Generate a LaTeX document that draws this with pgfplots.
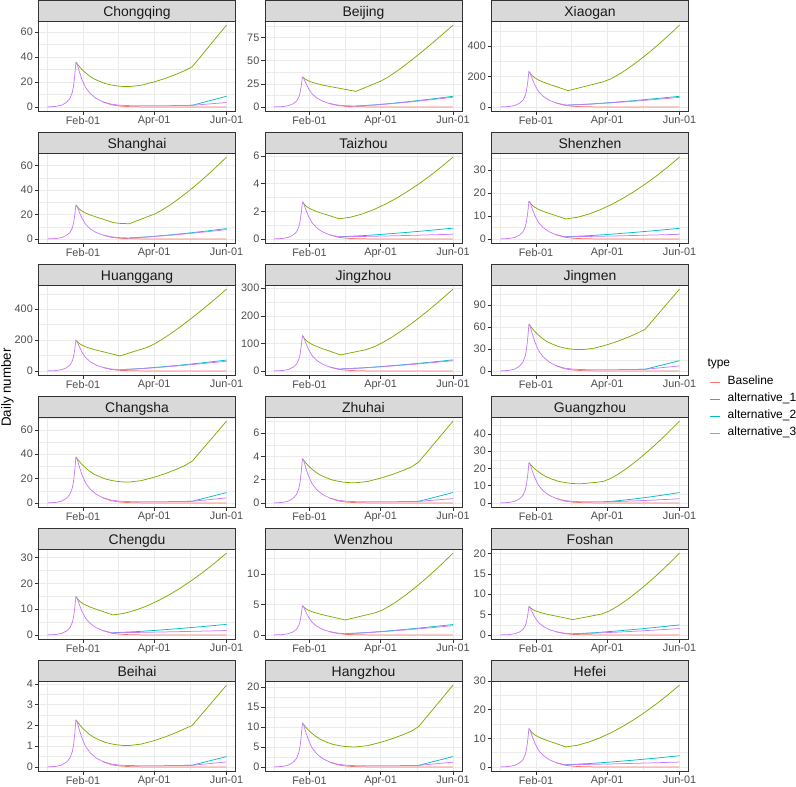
\documentclass[border=0pt]{standalone}
\usepackage{fontspec}
\setmainfont{Liberation Sans}
\usepackage{pgfplots}
\pgfplotsset{compat=1.18}
\definecolor{cR}{HTML}{F8766D}
\definecolor{cG}{HTML}{7CAE00}
\definecolor{cB}{HTML}{00BFC4}
\definecolor{cP}{HTML}{C77CFF}
\definecolor{gridc}{HTML}{EBEBEB}
\definecolor{borderc}{HTML}{333333}
\definecolor{stripc}{HTML}{D9D9D9}
\definecolor{tickc}{HTML}{4D4D4D}
\definecolor{stripfg}{HTML}{1A1A1A}
\pgfplotsset{
  panel/.style={
    scale only axis, width=197bp, height=90bp, anchor=south west,
    xmin=-6.55, xmax=159.55,
    xtick={31,91,152}, xticklabels={Feb-01,Apr-01,Jun-01},
    minor xtick={1,61,121.5},
    grid=both,
    major grid style={draw=gridc, line width=0.55pt},
    minor grid style={draw=gridc, line width=0.3pt},
    axis line style={draw=borderc, line width=0.6pt},
    tick align=outside, tick pos=left,
    major tick length=3.7bp, minor tick length=0pt,
    major tick style={draw=borderc, line width=0.55pt},
    tick label style={font=\fontsize{10.9}{12}\selectfont, text=tickc},
    xticklabel style={inner sep=1.5bp},
    yticklabel style={inner sep=1.8bp},
    /pgf/number format/assume math mode=true,
    scaled y ticks=false,
    every axis title/.style={at={(0.5,1)}, anchor=south, inner sep=0pt, outer sep=0pt,
      minimum width=197bp, minimum height=21bp, fill=stripc, draw=borderc, line width=0.6pt,
      font=\fontsize{14}{16}\selectfont, text=stripfg, text height=12.4bp, text depth=0bp},
    every axis plot/.append style={line width=0.75pt, line join=round, mark=none},
  }
}
\begin{document}
\begin{tikzpicture}
\path[use as bounding box] (0,0) rectangle (796bp,787bp);
% ---------- Row 0
\begin{axis}[panel, at={(38.5bp,676bp)}, title={Chongqing}, ymin=-3.27, ymax=68.67, ytick={0,20,40,60}, minor ytick={10,30,50}]
\addplot[cR] coordinates {(48,3.93)(55,1.61)(62,0.64)(70,0.21)(80,0)(152,0)};
\addplot[cG] coordinates {(25,35.7)(26,34.45)(28,32.13)(30,29.99)(32,28.2)(36,24.99)(40,22.49)(45,20.35)(50,18.56)(55,17.49)(60,16.71)(65,16.31)(70,16.24)(80,17.31)(91,19.99)(100,22.67)(110,26.24)(117,29.1)(123,32.0)(130,40.06)(140,51.58)(152,65.4)};
\addplot[cB] coordinates {(110,1.07)(123,1.25)(130,3.0)(140,5.5)(152,8.5)};
\addplot[cP] coordinates {(1,0)(8,0.36)(13,1.43)(17,3.57)(20,6.78)(22,11.78)(23,16.78)(24,24.99)(25,35.7)(26,34.27)(28,27.85)(30,22.13)(33,15.71)(37,10.71)(42,6.78)(48,3.93)(55,2.14)(62,1.36)(70,1.0)(80,0.93)(95,0.93)(110,1.07)(123,1.25)(130,1.79)(140,2.57)(152,3.5)};
\end{axis}
\begin{axis}[panel, at={(265bp,676bp)}, title={Beijing}, ymin=-4.43, ymax=93.03, ytick={0,25,50,75}, minor ytick={12.5,37.5,62.5,87.5}]
\addplot[cR] coordinates {(48,3.575)(55,1.46)(62,0.585)(70,0.195)(80,0)(152,0)};
\addplot[cG] coordinates {(25,32.5)(27.25,30.30)(29.5,28.58)(31.75,27.32)(36.25,25.44)(43,23.39)(49.75,21.67)(56.5,20.10)(63.25,18.45)(70,16.8)(91,27.9)(97.1,32.2)(103.2,37.44)(109.3,43.1)(115.4,49.07)(121.5,55.25)(127.6,61.64)(133.7,68.17)(139.8,74.86)(145.9,81.67)(152,88.6)};
\addplot[cB] coordinates {(70,0.91)(86.4,2.22)(102.8,4.13)(119.2,6.36)(135.6,8.83)(152,11.5)};
\addplot[cP] coordinates {(1,0)(8,0.325)(13,1.3)(17,3.25)(20,6.175)(22,10.725)(23,15.275)(24,22.75)(25,32.5)(26,31.2)(28,25.35)(30,20.15)(33,14.3)(37,9.75)(42,6.175)(48,3.575)(55,1.95)(62,1.235)(70,0.91)(86.4,2.09)(102.8,3.82)(119.2,5.85)(135.6,8.09)(152,10.5)};
\end{axis}
\begin{axis}[panel, at={(491.5bp,676bp)}, title={Xiaogan}, ymin=-26.95, ymax=565.95, ytick={0,200,400}, minor ytick={100,300,500}]
\addplot[cR] coordinates {(48,25.63)(55,10.49)(62,4.19)(70,1.40)(80,0)(152,0)};
\addplot[cG] coordinates {(25,233)(26.65,215.36)(28.3,201.5)(29.95,191.42)(33.25,176.3)(38.2,159.92)(43.15,146.06)(48.1,133.46)(53.05,120.23)(58,107)(87,164)(93.5,182.79)(100,210.28)(106.5,242.38)(113,277.96)(119.5,316.29)(126,357.05)(132.5,399.84)(139,444.61)(145.5,491.0)(152,539)};
\addplot[cB] coordinates {(58,11.88)(76.8,19.05)(95.6,29.54)(114.4,41.8)(133.2,55.37)(152,70)};
\addplot[cP] coordinates {(1,0)(8,2.33)(13,9.32)(17,23.3)(20,44.27)(22,76.89)(23,109.51)(24,163.1)(25,233)(26,223.68)(28,181.74)(30,144.46)(33,102.52)(37,69.9)(42,44.27)(48,25.63)(55,13.98)(58,11.88)(76.8,18.19)(95.6,27.42)(114.4,38.2)(133.2,50.13)(152,63)};
\end{axis}
% ---------- Row 1
\begin{axis}[panel, at={(38.5bp,544bp)}, title={Shanghai}, ymin=-3.34, ymax=70.14, ytick={0,20,40,60}, minor ytick={10,30,50,70}]
\addplot[cR] coordinates {(48,3.047)(55,1.247)(62,0.499)(70,0.166)(80,0)(152,0)};
\addplot[cG] coordinates {(25,27.7)(26.6,25.67)(28.2,24.08)(29.8,22.92)(33,21.18)(37.8,19.29)(42.6,17.70)(47.4,16.25)(52.2,14.72)(57,13.2)(63,12.6)(70,12.4)(85,18)(91.7,20.44)(98.4,24.02)(105.1,28.2)(111.8,32.83)(118.5,37.82)(125.2,43.12)(131.9,48.69)(138.6,54.52)(145.3,60.55)(152,66.8)};
\addplot[cB] coordinates {(70,0.776)(86.4,1.717)(102.8,3.093)(119.2,4.701)(135.6,6.481)(152,8.4)};
\addplot[cP] coordinates {(1,0)(8,0.277)(13,1.108)(17,2.77)(20,5.263)(22,9.141)(23,13.019)(24,19.39)(25,27.7)(26,26.59)(28,21.61)(30,17.17)(33,12.19)(37,8.31)(42,5.263)(48,3.047)(55,1.662)(62,1.053)(70,0.776)(86.4,1.618)(102.8,2.85)(119.2,4.289)(135.6,5.882)(152,7.6)};
\end{axis}
\begin{axis}[panel, at={(265bp,544bp)}, title={Taizhou}, ymin=-0.297, ymax=6.227, ytick={0,2,4,6}, minor ytick={1,3,5}]
\addplot[cR] coordinates {(48,0.295)(55,0.121)(62,0.048)(70,0.016)(80,0)(152,0)};
\addplot[cG] coordinates {(25,2.68)(26.55,2.509)(28.1,2.375)(29.65,2.277)(32.75,2.131)(37.4,1.972)(42.05,1.838)(46.7,1.716)(51.35,1.588)(56,1.46)(65.6,1.572)(75.2,1.801)(84.8,2.111)(94.4,2.492)(104,2.935)(113.6,3.434)(123.2,3.986)(132.8,4.588)(142.4,5.236)(152,5.93)};
\addplot[cB] coordinates {(56,0.153)(75.2,0.23)(94.4,0.344)(113.6,0.476)(132.8,0.622)(152,0.78)};
\addplot[cP] coordinates {(1,0)(8,0.0268)(13,0.1072)(17,0.268)(20,0.509)(22,0.884)(23,1.26)(24,1.876)(25,2.68)(26,2.573)(28,2.09)(30,1.662)(33,1.179)(37,0.804)(42,0.509)(48,0.295)(55,0.161)(56,0.153)(75.2,0.176)(94.4,0.21)(113.6,0.249)(132.8,0.293)(152,0.34)};
\end{axis}
\begin{axis}[panel, at={(491.5bp,544bp)}, title={Shenzhen}, ymin=-1.78, ymax=37.38, ytick={0,10,20,30}, minor ytick={5,15,25,35}]
\addplot[cR] coordinates {(48,1.804)(55,0.738)(62,0.295)(70,0.098)(80,0)(152,0)};
\addplot[cG] coordinates {(25,16.4)(26.55,15.32)(28.1,14.48)(29.65,13.86)(32.75,12.94)(37.4,11.93)(42.05,11.09)(46.7,10.3)(51.35,9.51)(56,8.7)(65.6,9.375)(75.2,10.75)(84.8,12.62)(94.4,14.91)(104,17.57)(113.6,20.58)(123.2,23.9)(132.8,27.52)(142.4,31.43)(152,35.6)};
\addplot[cB] coordinates {(56,0.935)(75.2,1.387)(94.4,2.049)(113.6,2.822)(132.8,3.678)(152,4.6)};
\addplot[cP] coordinates {(1,0)(8,0.164)(13,0.656)(17,1.64)(20,3.116)(22,5.412)(23,7.708)(24,11.48)(25,16.4)(26,15.74)(28,12.79)(30,10.17)(33,7.216)(37,4.92)(42,3.116)(48,1.804)(55,0.984)(56,0.935)(75.2,1.066)(94.4,1.259)(113.6,1.483)(132.8,1.732)(152,2.0)};
\end{axis}
% ---------- Row 2
\begin{axis}[panel, at={(38.5bp,412bp)}, title={Huanggang}, ymin=-26.5, ymax=556.5, ytick={0,200,400}, minor ytick={100,300,500}]
\addplot[cR] coordinates {(48,21.89)(55,8.96)(62,3.58)(70,1.19)(80,0)(152,0)};
\addplot[cG] coordinates {(25,199)(26.85,184.72)(28.7,173.5)(30.55,165.34)(34.25,153.1)(39.8,139.84)(45.35,128.62)(50.9,118.42)(56.45,107.71)(62,97)(84.5,151)(91.25,174.91)(98,205.96)(104.75,240.37)(111.5,277.21)(118.25,315.98)(125,356.3)(131.75,398.03)(138.5,440.97)(145.25,484.97)(152,530)};
\addplot[cB] coordinates {(62,7.56)(80,15.27)(98,26.54)(116,39.7)(134,54.28)(152,70)};
\addplot[cP] coordinates {(1,0)(8,1.99)(13,7.96)(17,19.9)(20,37.81)(22,65.67)(23,93.53)(24,139.3)(25,199)(26,191.04)(28,155.22)(30,123.38)(33,87.56)(37,59.7)(42,37.81)(48,21.89)(55,11.94)(62,7.56)(80,14.4)(98,24.41)(116,36.1)(134,49.05)(152,63)};
\end{axis}
\begin{axis}[panel, at={(265bp,412bp)}, title={Jingzhou}, ymin=-14.85, ymax=311.85, ytick={0,100,200,300}, minor ytick={50,150,250}]
\addplot[cR] coordinates {(48,14.08)(55,5.76)(62,2.30)(70,0.77)(80,0)(152,0)};
\addplot[cG] coordinates {(25,128)(26.6,118.2)(28.2,110.5)(29.8,104.9)(33,96.5)(37.8,87.4)(42.6,79.7)(47.4,72.7)(52.2,65.35)(57,58)(78.5,77)(85.85,88.02)(93.2,104.15)(100.55,122.98)(107.9,143.86)(115.25,166.34)(122.6,190.26)(129.95,215.36)(137.3,241.63)(144.65,268.84)(152,297)};
\addplot[cB] coordinates {(57,6.91)(76,10.99)(95,16.97)(114,23.94)(133,31.67)(152,40)};
\addplot[cP] coordinates {(1,0)(8,1.28)(13,5.12)(17,12.8)(20,24.32)(22,42.24)(23,60.16)(24,89.6)(25,128)(26,122.88)(28,99.84)(30,79.36)(33,56.32)(37,38.4)(42,24.32)(48,14.08)(55,7.68)(57,6.91)(76,10.62)(95,16.05)(114,22.4)(133,29.43)(152,37)};
\end{axis}
\begin{axis}[panel, at={(491.5bp,412bp)}, title={Jingmen}, ymin=-5.6, ymax=117.6, ytick={0,30,60,90}, minor ytick={15,45,75,105},
  legend entries={Baseline,alternative\_1,alternative\_2,alternative\_3},
  legend cell align=left,
  legend image code/.code={\draw[#1] (0bp,0bp) -- (10bp,0bp);},
  legend style={at={(axis description cs:1.109,-0.011)}, anchor=north west, draw=none, fill=none,
    inner sep=0pt, outer sep=0pt, row sep=5bp, font=\fontsize{12}{14}\selectfont,
    nodes={inner sep=0pt, text height=9bp, text depth=3bp},
    /tikz/every odd column/.append style={column sep=7bp}}]
\addplot[cR] coordinates {(48,7.04)(55,2.88)(62,1.15)(70,0.38)(80,0)(152,0)};
\addplot[cG] coordinates {(25,64)(26,61.76)(28,57.6)(30,53.76)(32,50.56)(36,44.8)(40,40.32)(45,36.48)(50,33.28)(55,31.36)(60,29.95)(65,29.25)(70,29.12)(80,31.04)(91,35.84)(100,40.64)(110,47.04)(117,52.16)(123,57)(130,70.28)(140,89.24)(152,112)};
\addplot[cB] coordinates {(110,1.92)(123,2.24)(130,5.08)(140,9.13)(152,14)};
\addplot[cP] coordinates {(1,0)(8,0.64)(13,2.56)(17,6.4)(20,12.16)(22,21.12)(23,30.08)(24,44.8)(25,64)(26,61.44)(28,49.92)(30,39.68)(33,28.16)(37,19.2)(42,12.16)(48,7.04)(55,3.84)(62,2.43)(70,1.79)(80,1.66)(95,1.66)(110,1.92)(123,2.24)(130,3.34)(140,4.91)(152,6.8)};
\end{axis}
% ---------- Row 3
\begin{axis}[panel, at={(38.5bp,280bp)}, title={Changsha}, ymin=-3.36, ymax=70.56, ytick={0,20,40,60}, minor ytick={10,30,50,70}]
\addplot[cR] coordinates {(48,4.15)(55,1.70)(62,0.68)(70,0.23)(80,0)(152,0)};
\addplot[cG] coordinates {(25,37.7)(26,36.38)(28,33.93)(30,31.67)(32,29.78)(36,26.39)(40,23.75)(45,21.49)(50,19.6)(55,18.47)(60,17.64)(65,17.23)(70,17.15)(80,18.28)(91,21.11)(100,23.94)(110,27.71)(117,30.73)(123,34.2)(130,42.17)(140,53.54)(152,67.2)};
\addplot[cB] coordinates {(110,1.13)(123,1.32)(130,3.05)(140,5.53)(152,8.5)};
\addplot[cP] coordinates {(1,0)(8,0.38)(13,1.51)(17,3.77)(20,7.16)(22,12.44)(23,17.72)(24,26.39)(25,37.7)(26,36.19)(28,29.41)(30,23.37)(33,16.59)(37,11.31)(42,7.16)(48,4.15)(55,2.26)(62,1.43)(70,1.06)(80,0.98)(95,0.98)(110,1.13)(123,1.32)(130,1.99)(140,2.95)(152,4.1)};
\end{axis}
\begin{axis}[panel, at={(265bp,280bp)}, title={Zhuhai}, ymin=-0.352, ymax=7.382, ytick={0,2,4,6}, minor ytick={1,3,5,7}]
\addplot[cR] coordinates {(48,0.418)(55,0.171)(62,0.068)(70,0.023)(80,0)(152,0)};
\addplot[cG] coordinates {(25,3.8)(26,3.667)(28,3.42)(30,3.192)(32,3.002)(36,2.66)(40,2.394)(45,2.166)(50,1.976)(55,1.862)(60,1.778)(65,1.737)(70,1.729)(80,1.843)(91,2.128)(100,2.413)(110,2.793)(117,3.097)(123,3.51)(130,4.36)(140,5.573)(152,7.03)};
\addplot[cB] coordinates {(110,0.114)(123,0.133)(130,0.316)(140,0.577)(152,0.89)};
\addplot[cP] coordinates {(1,0)(8,0.038)(13,0.152)(17,0.38)(20,0.722)(22,1.254)(23,1.786)(24,2.66)(25,3.8)(26,3.648)(28,2.964)(30,2.356)(33,1.672)(37,1.14)(42,0.722)(48,0.418)(55,0.228)(62,0.144)(70,0.106)(80,0.099)(95,0.099)(110,0.114)(123,0.133)(130,0.19)(140,0.27)(152,0.37)};
\end{axis}
\begin{axis}[panel, at={(491.5bp,280bp)}, title={Guangzhou}, ymin=-2.37, ymax=49.77, ytick={0,10,20,30,40}, minor ytick={5,15,25,35,45}]
\addplot[cR] coordinates {(48,2.563)(55,1.049)(62,0.419)(70,0.14)(80,0)(152,0)};
\addplot[cG] coordinates {(25,23.3)(26,22.51)(28,21.05)(30,19.7)(32,18.58)(36,16.56)(40,14.99)(45,13.64)(50,12.51)(55,11.84)(60,11.35)(65,11.1)(70,11.15)(80,11.8)(87.5,12.4)(93.95,14.15)(100.4,16.72)(106.85,19.72)(113.3,23.04)(119.75,26.61)(126.2,30.42)(132.65,34.41)(139.1,38.59)(145.55,42.92)(152,47.4)};
\addplot[cB] coordinates {(87.5,0.606)(100.4,1.272)(113.3,2.245)(126.2,3.383)(139.1,4.642)(152,6.0)};
\addplot[cP] coordinates {(1,0)(8,0.233)(13,0.932)(17,2.33)(20,4.427)(22,7.689)(23,10.95)(24,16.31)(25,23.3)(26,22.37)(28,18.17)(30,14.45)(33,10.25)(37,6.99)(42,4.427)(48,2.563)(55,1.398)(62,0.885)(70,0.652)(80,0.606)(87.5,0.606)(100.4,0.827)(113.3,1.151)(126.2,1.53)(139.1,1.948)(152,2.4)};
\end{axis}
% ---------- Row 4
\begin{axis}[panel, at={(38.5bp,148bp)}, title={Chengdu}, ymin=-1.59, ymax=33.39, ytick={0,10,20,30}, minor ytick={5,15,25}]
\addplot[cR] coordinates {(48,1.639)(55,0.671)(62,0.268)(70,0.089)(80,0)(152,0)};
\addplot[cG] coordinates {(25,14.9)(26.55,13.9)(28.1,13.12)(29.65,12.54)(32.75,11.69)(37.4,10.76)(42.05,9.97)(46.7,9.26)(51.35,8.51)(56,7.76)(65.6,8.363)(75.2,9.592)(84.8,11.26)(94.4,13.31)(104,15.69)(113.6,18.38)(123.2,21.35)(132.8,24.58)(142.4,28.07)(152,31.8)};
\addplot[cB] coordinates {(56,0.849)(75.2,1.25)(94.4,1.837)(113.6,2.523)(132.8,3.282)(152,4.1)};
\addplot[cP] coordinates {(1,0)(8,0.149)(13,0.596)(17,1.49)(20,2.831)(22,4.917)(23,7.003)(24,10.43)(25,14.9)(26,14.3)(28,11.62)(30,9.238)(33,6.556)(37,4.47)(42,2.831)(48,1.639)(55,0.894)(56,0.849)(75.2,0.954)(94.4,1.108)(113.6,1.287)(132.8,1.486)(152,1.7)};
\end{axis}
\begin{axis}[panel, at={(265bp,148bp)}, title={Wenzhou}, ymin=-0.67, ymax=14.07, ytick={0,5,10}, minor ytick={2.5,7.5,12.5}]
\addplot[cR] coordinates {(48,0.526)(55,0.215)(62,0.086)(70,0.029)(80,0)(152,0)};
\addplot[cG] coordinates {(25,4.78)(26.8,4.454)(28.6,4.198)(30.4,4.011)(34,3.732)(39.4,3.429)(44.8,3.172)(50.2,2.939)(55.6,2.695)(61,2.45)(86,3.6)(92.6,4.091)(99.2,4.809)(105.8,5.648)(112.4,6.578)(119,7.58)(125.6,8.645)(132.2,9.763)(138.8,10.93)(145.4,12.15)(152,13.4)};
\addplot[cB] coordinates {(61,0.196)(79.2,0.382)(97.4,0.653)(115.6,0.97)(133.8,1.321)(152,1.7)};
\addplot[cP] coordinates {(1,0)(8,0.048)(13,0.191)(17,0.478)(20,0.908)(22,1.577)(23,2.247)(24,3.346)(25,4.78)(26,4.589)(28,3.728)(30,2.964)(33,2.103)(37,1.434)(42,0.908)(48,0.526)(55,0.287)(61,0.196)(79.2,0.359)(97.4,0.598)(115.6,0.878)(133.8,1.187)(152,1.52)};
\end{axis}
\begin{axis}[panel, at={(491.5bp,148bp)}, title={Foshan}, ymin=-1.005, ymax=21.105, ytick={0,5,10,15,20}, minor ytick={2.5,7.5,12.5,17.5}]
\addplot[cR] coordinates {(48,0.767)(55,0.314)(62,0.125)(70,0.042)(80,0)(152,0)};
\addplot[cG] coordinates {(25,6.97)(26.85,6.522)(28.7,6.17)(30.55,5.914)(34.25,5.53)(39.8,5.114)(45.35,4.762)(50.9,4.442)(56.45,4.106)(62,3.77)(86,5.1)(92.6,5.852)(99.2,6.951)(105.8,8.235)(112.4,9.659)(119,11.19)(125.6,12.82)(132.2,14.53)(138.8,16.32)(145.4,18.18)(152,20.1)};
\addplot[cB] coordinates {(62,0.265)(80,0.536)(98,0.932)(116,1.395)(134,1.908)(152,2.46)};
\addplot[cP] coordinates {(1,0)(8,0.07)(13,0.279)(17,0.697)(20,1.324)(22,2.3)(23,3.276)(24,4.879)(25,6.97)(26,6.691)(28,5.437)(30,4.321)(33,3.067)(37,2.091)(42,1.324)(48,0.767)(55,0.418)(62,0.265)(80,0.425)(98,0.659)(116,0.932)(134,1.234)(152,1.56)};
\end{axis}
% ---------- Row 5
\begin{axis}[panel, at={(38.5bp,16bp)}, title={Beihai}, ymin=-0.198, ymax=4.148, ytick={0,1,2,3,4}, minor ytick={0.5,1.5,2.5,3.5}]
\addplot[cR] coordinates {(48,0.25)(55,0.102)(62,0.041)(70,0.014)(80,0)(152,0)};
\addplot[cG] coordinates {(25,2.27)(26,2.191)(28,2.043)(30,1.907)(32,1.793)(36,1.589)(40,1.43)(45,1.294)(50,1.18)(55,1.112)(60,1.062)(65,1.037)(70,1.033)(80,1.101)(91,1.271)(100,1.441)(110,1.668)(117,1.85)(123,2.0)(130,2.471)(140,3.143)(152,3.95)};
\addplot[cB] coordinates {(110,0.068)(123,0.079)(130,0.181)(140,0.326)(152,0.5)};
\addplot[cP] coordinates {(1,0)(8,0.023)(13,0.091)(17,0.227)(20,0.431)(22,0.749)(23,1.067)(24,1.589)(25,2.27)(26,2.179)(28,1.771)(30,1.407)(33,0.999)(37,0.681)(42,0.431)(48,0.25)(55,0.136)(62,0.086)(70,0.064)(80,0.059)(95,0.059)(110,0.068)(123,0.079)(130,0.118)(140,0.172)(152,0.24)};
\end{axis}
\begin{axis}[panel, at={(265bp,16bp)}, title={Hangzhou}, ymin=-1.025, ymax=21.525, ytick={0,5,10,15,20}, minor ytick={2.5,7.5,12.5,17.5}]
\addplot[cR] coordinates {(48,1.21)(55,0.495)(62,0.198)(70,0.066)(80,0)(152,0)};
\addplot[cG] coordinates {(25,11)(26,10.62)(28,9.9)(30,9.24)(32,8.69)(36,7.7)(40,6.93)(45,6.27)(50,5.72)(55,5.39)(60,5.15)(65,5.03)(70,5.0)(80,5.34)(91,6.16)(100,6.99)(110,8.09)(117,8.97)(123,10.1)(130,12.61)(140,16.2)(152,20.5)};
\addplot[cB] coordinates {(110,0.33)(123,0.385)(130,0.92)(140,1.68)(152,2.6)};
\addplot[cP] coordinates {(1,0)(8,0.11)(13,0.44)(17,1.1)(20,2.09)(22,3.63)(23,5.17)(24,7.7)(25,11)(26,10.56)(28,8.58)(30,6.82)(33,4.84)(37,3.3)(42,2.09)(48,1.21)(55,0.66)(62,0.418)(70,0.308)(80,0.286)(95,0.286)(110,0.33)(123,0.385)(130,0.58)(140,0.85)(152,1.2)};
\end{axis}
\begin{axis}[panel, at={(491.5bp,16bp)}, title={Hefei}, ymin=-1.43, ymax=30.03, ytick={0,10,20,30}, minor ytick={5,15,25}]
\addplot[cR] coordinates {(48,1.474)(55,0.603)(62,0.241)(70,0.08)(80,0)(152,0)};
\addplot[cG] coordinates {(25,13.4)(26.55,12.5)(28.1,11.8)(29.65,11.29)(32.75,10.52)(37.4,9.688)(42.05,8.984)(46.7,8.344)(51.35,7.672)(56,7.0)(65.6,7.542)(75.2,8.646)(84.8,10.15)(94.4,11.99)(104,14.13)(113.6,16.54)(123.2,19.21)(132.8,22.12)(142.4,25.25)(152,28.6)};
\addplot[cB] coordinates {(56,0.764)(75.2,1.151)(94.4,1.717)(113.6,2.378)(132.8,3.111)(152,3.9)};
\addplot[cP] coordinates {(1,0)(8,0.134)(13,0.536)(17,1.34)(20,2.546)(22,4.422)(23,6.298)(24,9.38)(25,13.4)(26,12.86)(28,10.45)(30,8.308)(33,5.896)(37,4.02)(42,2.546)(48,1.474)(55,0.804)(56,0.764)(75.2,0.88)(94.4,1.048)(113.6,1.246)(132.8,1.464)(152,1.7)};
\end{axis}
% ---------- labels
\node[rotate=90, font=\fontsize{13.4}{15}\selectfont] at (7.5bp,399.5bp) {Daily number};
\node[anchor=base west, font=\fontsize{12}{14}\selectfont] at (704bp,420.3bp) {type};
\end{tikzpicture}
\end{document}
